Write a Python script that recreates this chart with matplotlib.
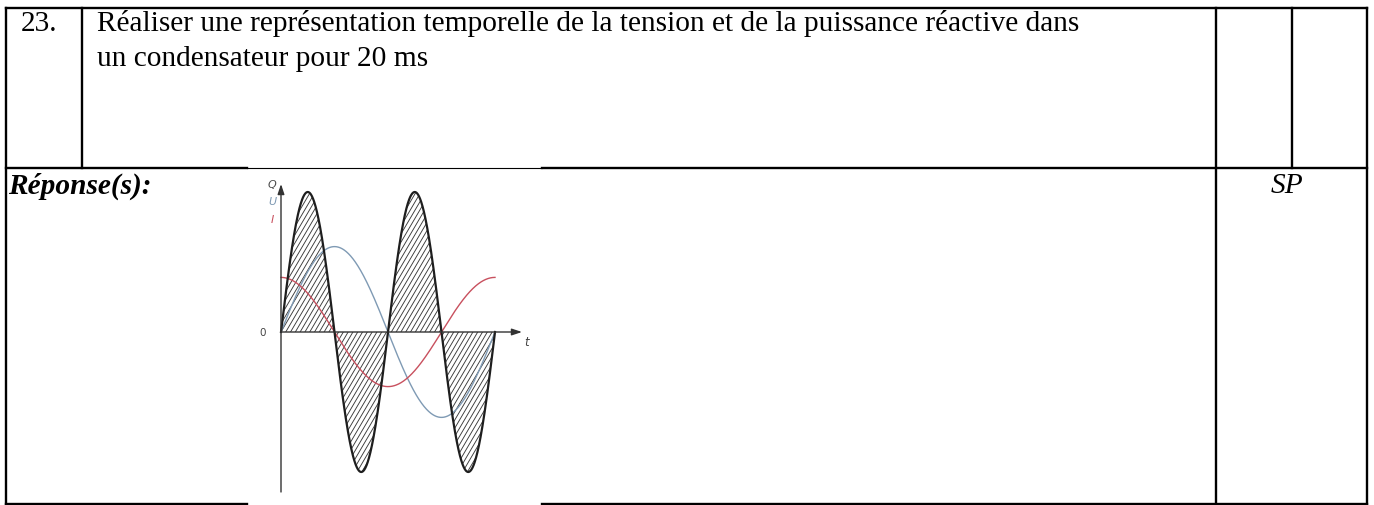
import numpy as np
import matplotlib
matplotlib.use("Agg")
import matplotlib.pyplot as plt
from matplotlib.collections import LineCollection

# ---- content -------------------------------------------------------------
question_number = "23."
question_lines = [
    "Réaliser une représentation temporelle de la tension et de la puissance réactive dans",
    "un condensateur pour 20 ms",
]
answer_label = "Réponse(s):"
score_label = "SP"

# Signal parameters (capacitor: current leads voltage by a quarter period)
period_ms = 20.0          # one period of U and I shown
u_peak = 0.61             # voltage amplitude (relative to Q peak)
i_peak = 0.39             # current amplitude
q_peak = 1.0              # reactive power amplitude (twice the frequency)
curve_labels = ["Q", "U", "I"]
curve_colors = ["#4a4a4a", "#7f9ab4", "#c8505e"]

# ---- figure --------------------------------------------------------------
W, H = 1374, 506
fig = plt.figure(figsize=(W / 100, H / 100), dpi=100)
page = fig.add_axes([0, 0, 1, 1])
page.set_xlim(0, W)
page.set_ylim(H, 0)
page.axis("off")

serif = ["Liberation Serif", "DejaVu Serif"]
fs = 21.2
lw_table = 1.7

def hline(y, x0, x1, lw=lw_table):
    page.plot([x0, x1], [y, y], color="black", lw=lw, solid_capstyle="projecting")

def vline(x, y0, y1, lw=lw_table):
    page.plot([x, x], [y0, y1], color="black", lw=lw, solid_capstyle="projecting")

# table frame
top, mid, bot = 9, 169, 505
left, c1, c2, c3, right = 6, 82, 1216, 1292, 1367
img_x0, img_x1 = 247, 542

hline(top, left, right)
hline(mid, left, img_x0)
hline(mid, img_x1, right)
hline(mid, img_x0, img_x1, lw=0.8)
hline(bot, left, img_x0)
hline(bot, img_x1, right)
vline(left, top, bot)
vline(c1, top, mid)
vline(c2, top, bot)
vline(c3, top, mid)
vline(right, top, bot)

# texts
page.text(21, 31, question_number, fontsize=fs, family=serif, va="baseline", ha="left")
page.text(97, 31, question_lines[0], fontsize=fs, family=serif, va="baseline", ha="left")
page.text(97, 66, question_lines[1], fontsize=fs, family=serif, va="baseline", ha="left")
page.text(8, 194, answer_label, fontsize=fs, family=serif, weight="bold",
          style="italic", va="baseline", ha="left")
page.text(1287, 193, score_label, fontsize=fs, family=serif, style="italic",
          va="baseline", ha="center")

# ---- chart inset ---------------------------------------------------------
img_y0, img_y1 = 170, 506
ax = fig.add_axes([img_x0 / W, 1 - img_y1 / H, (img_x1 - img_x0) / W, (img_y1 - img_y0) / H])
ax.set_facecolor("white")
ax.axis("off")

px_per_ms = (495 - 281) / period_ms
px_per_unit = 140.0
x_origin, y_origin = 281, 333
ax.set_xlim(-(x_origin - img_x0) / px_per_ms, (img_x1 - x_origin) / px_per_ms)
ax.set_ylim(-(img_y1 - y_origin) / px_per_unit, (y_origin - img_y0) / px_per_unit)

t = np.linspace(0, period_ms, 801)
w = 2 * np.pi / period_ms
u = u_peak * np.sin(w * t)
i = i_peak * np.cos(w * t)
q = q_peak * np.sin(2 * w * t)

# hatched area under Q: steep diagonal strokes clipped to the filled region
area = ax.fill_between(t, q, 0, facecolor="none", linewidth=0)
slope = 1.7 * px_per_ms / px_per_unit            # data-space slope of a ~60 deg stroke
step = 4.8 / px_per_ms                           # spacing between strokes
y_lo, y_hi = -q_peak * 1.05, q_peak * 1.05
starts = np.arange(-(y_hi - y_lo) / slope, period_ms + step, step)
segs = [[(x0, y_lo), (x0 + (y_hi - y_lo) / slope, y_hi)] for x0 in starts]
hatch = LineCollection(segs, colors="#3a3a3a", linewidths=0.65)
ax.add_collection(hatch)
hatch.set_clip_path(area.get_paths()[0], ax.transData)

ax.plot(t, u, color=curve_colors[1], lw=1.0)
ax.plot(t, i, color=curve_colors[2], lw=1.0)
ax.plot(t, q, color="#1e1e1e", lw=1.6)

# axes with arrows
x_tip = (522 - x_origin) / px_per_ms
y_tip = (y_origin - 185) / px_per_unit
y_bottom = -(493 - y_origin) / px_per_unit
ax.annotate("", xy=(x_tip, 0), xytext=(0, 0),
            arrowprops=dict(arrowstyle="-|>,head_length=0.6,head_width=0.2",
                            color="#333333", lw=1.0, shrinkA=0, shrinkB=0))
ax.annotate("", xy=(0, y_tip), xytext=(0, y_bottom),
            arrowprops=dict(arrowstyle="-|>,head_length=0.6,head_width=0.2",
                            color="#333333", lw=1.0, shrinkA=0, shrinkB=0))

lx = (272 - x_origin) / px_per_ms
for k, (lab, col) in enumerate(zip(curve_labels, curve_colors)):
    ax.text(lx, (y_origin - (185 + 17.5 * k)) / px_per_unit, lab, color=col,
            fontsize=8, style="italic", ha="center", va="center")
ax.text((263 - x_origin) / px_per_ms, 0, "0", fontsize=7.5, color="#444444",
        ha="center", va="center")
ax.text((527 - x_origin) / px_per_ms, -(342 - y_origin) / px_per_unit, "t",
        fontsize=8.5, style="italic", color="#444444", ha="center", va="center")

fig.savefig("out.png", dpi=100)
